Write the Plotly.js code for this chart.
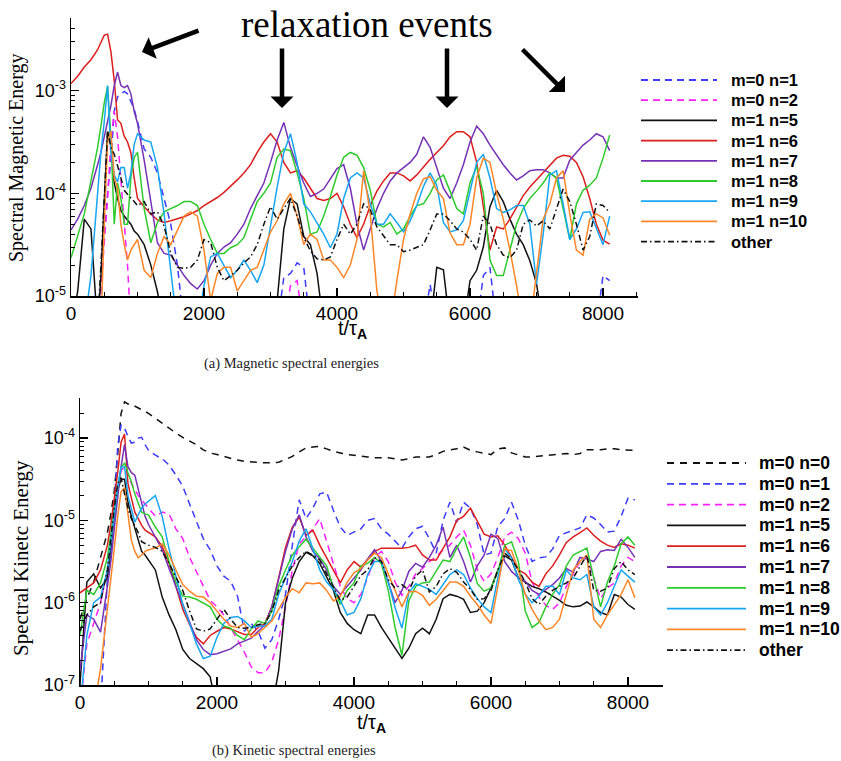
<!DOCTYPE html>
<html>
<head>
<meta charset="utf-8">
<script src="https://cdn.plot.ly/plotly-3.0.1.min.js"></script>
<style>
  html, body { margin: 0; padding: 0; background: #ffffff; }
  #chart { width: 841px; height: 761px; }
</style>
</head>
<body>
<div id="chart"></div>
<script>
// Simulation time t / tau_A (shared sampling for both panels)
const timeSteps = [0,100,200,300,400,450,500,550,600,650,700,750,800,850,900,950,1000,
  1100,1200,1300,1400,1500,1600,1700,1800,1900,2000,
  2100,2200,2300,2400,2500,2600,2700,2800,2900,3000,
  3100,3200,3300,3400,3500,3600,3700,3800,3900,4000,
  4100,4200,4300,4400,4500,4600,4700,4800,4900,5000,
  5100,5200,5300,5400,5500,5600,5700,5800,5900,6000,
  6100,6200,6300,6400,6500,6600,6700,6800,6900,7000,
  7100,7200,7300,7400,7500,7600,7700,7800,7900,8000,8100];

// ---------- (a) magnetic spectral energies ----------
const magM0N1 = [5e-6,5e-6,5e-6,5e-6,5e-6,1.1e-5,4.0e-5,1.0e-4,2.1e-4,6.3e-4,8.7e-4,9.3e-4,9.8e-4,9.3e-4,7.9e-4,6.6e-4,5.0e-4,
  2.7e-4,2.24e-4,1.58e-4,8.9e-5,5.0e-5,2.0e-5,5e-6,5e-6,5e-6,5e-6,
  5e-6,5e-6,5e-6,5e-6,5e-6,5e-6,5e-6,5e-6,5e-6,5e-6,
  5e-6,1.51e-5,1.66e-5,2.1e-5,1.9e-5,5e-6,5e-6,5e-6,5e-6,5e-6,
  5e-6,5e-6,5e-6,5e-6,5e-6,5e-6,5e-6,5e-6,5e-6,5e-6,
  5e-6,5e-6,5e-6,1.3e-5,5e-6,5e-6,5e-6,5e-6,5e-6,5e-6,
  5e-6,1.58e-5,1.9e-5,5e-6,5e-6,5e-6,5e-6,5e-6,5e-6,5e-6,
  5e-6,5e-6,5e-6,5e-6,5e-6,5e-6,5e-6,5e-6,5e-6,1.58e-5,1.41e-5];
const magM0N2 = [5e-6,5e-6,5e-6,5e-6,5e-6,1.2e-5,3.16e-5,8.9e-5,3.16e-4,6.3e-4,3.55e-4,1.26e-4,5.0e-5,2.0e-5,5e-6,5e-6,5e-6,
  5e-6,5e-6,5e-6,5e-6,5e-6,5e-6,5e-6,5e-6,5e-6,5e-6,
  5e-6,5e-6,5e-6,5e-6,5e-6,5e-6,5e-6,5e-6,5e-6,5e-6,
  5e-6,5e-6,1.26e-5,1.41e-5,5e-6,5e-6,5e-6,5e-6,5e-6,5e-6,
  5e-6,5e-6,5e-6,5e-6,5e-6,5e-6,5e-6,5e-6,5e-6,5e-6,
  5e-6,5e-6,5e-6,5e-6,5e-6,5e-6,5e-6,5e-6,5e-6,5e-6,
  5e-6,5e-6,5e-6,5e-6,5e-6,5e-6,5e-6,5e-6,5e-6,5e-6,
  5e-6,5e-6,5e-6,5e-6,5e-6,5e-6,5e-6,5e-6,5e-6,5e-6,5e-6];
const magM1N5 = [5e-6,1.1e-5,5.6e-5,4.5e-5,5e-6,1.58e-5,8.3e-5,4.0e-4,3.16e-4,1.26e-4,8.9e-5,6.8e-5,6.0e-5,5.4e-5,5.0e-5,4.3e-5,4.0e-5,
  3.16e-5,2.0e-5,1.1e-5,5e-6,5e-6,5e-6,5e-6,5e-6,5e-6,5e-6,
  5e-6,5e-6,5e-6,5e-6,5e-6,5e-6,5e-6,5e-6,5e-6,5e-6,
  9e-6,4.5e-5,8.9e-5,7.9e-5,3.8e-5,3.16e-5,1.66e-5,5e-6,5e-6,5e-6,
  5e-6,5e-6,5e-6,5e-6,5e-6,5e-6,5e-6,5e-6,5e-6,5e-6,
  5e-6,5e-6,5e-6,5e-6,1.9e-5,1.8e-5,5e-6,5e-6,5e-6,1.41e-5,
  1.78e-5,3.0e-5,7.4e-5,1.07e-4,8.3e-5,5.6e-5,4.0e-5,3.16e-5,2.2e-5,1.32e-5,
  5e-6,5e-6,5e-6,5e-6,5e-6,5e-6,5e-6,5e-6,5e-6,5e-6,5e-6];
const magM1N6 = [1.17e-3,1.38e-3,1.7e-3,2.0e-3,2.5e-3,2.95e-3,3.47e-3,3.55e-3,2.4e-3,1.26e-3,5.2e-4,4.8e-4,3.6e-4,3.16e-4,2.5e-4,1.41e-4,8.9e-5,
  7.4e-5,6.3e-5,5.5e-5,5.2e-5,5.4e-5,5.6e-5,5.9e-5,6.3e-5,6.8e-5,7.6e-5,
  8.3e-5,9.1e-5,1.02e-4,1.17e-4,1.35e-4,1.58e-4,1.9e-4,2.5e-4,3.16e-4,3.8e-4,
  3.16e-4,2.0e-4,1.58e-4,1.66e-4,1.41e-4,1.12e-4,8.9e-5,8.5e-5,8.9e-5,1.0e-4,
  7.4e-5,5.0e-5,3.7e-5,5.0e-5,7.6e-5,1.05e-4,1.32e-4,1.58e-4,1.58e-4,1.48e-4,
  1.32e-4,1.51e-4,1.82e-4,2.14e-4,2.5e-4,2.9e-4,3.55e-4,3.98e-4,3.98e-4,3.55e-4,
  2.0e-4,7.1e-5,2.8e-5,4.7e-5,4.5e-5,5.6e-5,7.4e-5,9.5e-5,1.15e-4,1.35e-4,
  1.58e-4,1.9e-4,2.2e-4,2.35e-4,2.3e-4,2.0e-4,1.45e-4,8.9e-5,5.0e-5,3.5e-5,3.2e-5];
const magM1N7 = [4.4e-5,5.6e-5,7.6e-5,1.12e-4,1.9e-4,2.5e-4,3.55e-4,5.0e-4,7.1e-4,1.12e-3,1.51e-3,1.12e-3,1.07e-3,1.12e-3,9.3e-4,6.3e-4,4.8e-4,
  2.1e-4,8.7e-5,3.3e-5,2.6e-5,2.5e-5,2.0e-5,1.58e-5,1.32e-5,1.17e-5,1.41e-5,
  2.0e-5,2.6e-5,3.0e-5,3.3e-5,4.0e-5,5.0e-5,7.1e-5,9.5e-5,1.26e-4,2.0e-4,
  3.3e-4,4.9e-4,2.8e-4,1.86e-4,1.26e-4,9.3e-5,1.0e-4,1.1e-4,1.38e-4,1.74e-4,
  1.9e-4,1.12e-4,5.0e-5,2.8e-5,4.5e-5,7.1e-5,1.0e-4,1.32e-4,1.58e-4,1.78e-4,
  2.0e-4,2.4e-4,3.55e-4,2.8e-4,1.78e-4,1.12e-4,8.9e-5,1.26e-4,1.9e-4,3.16e-4,
  4.5e-4,3.8e-4,2.95e-4,2.35e-4,1.9e-4,1.58e-4,1.35e-4,1.48e-4,1.66e-4,1.7e-4,
  1.7e-4,1.58e-4,1.41e-4,1.41e-4,2.1e-4,2.5e-4,2.95e-4,3.3e-4,3.8e-4,3.55e-4,2.6e-4];
const magM1N8 = [2.35e-5,3.8e-5,6.3e-5,1.32e-4,2.8e-4,4.5e-4,7.6e-4,1.1e-3,3.55e-4,5.0e-5,1.26e-4,8.9e-5,5.0e-5,5.0e-5,1.41e-4,2.24e-4,2.5e-4,
  7.1e-5,3.3e-5,5.2e-5,6.6e-5,7.1e-5,7.6e-5,8.3e-5,8.3e-5,7.6e-5,5.0e-5,
  3.55e-5,2.6e-5,2.6e-5,2.95e-5,3.16e-5,3.7e-5,5.6e-5,8.3e-5,1.0e-4,1.26e-4,
  2.24e-4,2.7e-4,2.6e-4,1.58e-4,8.9e-5,4.0e-5,4.2e-5,6.0e-5,9.3e-5,1.51e-4,
  2.24e-4,2.5e-4,2.35e-4,1.78e-4,1.07e-4,5.0e-5,4.7e-5,5.2e-5,4.0e-5,4.5e-5,
  6.0e-5,7.6e-5,7.9e-5,1.0e-4,1.35e-4,1.51e-4,1.05e-4,7.1e-5,6.3e-5,1.26e-4,
  1.82e-4,1.0e-4,2.24e-5,1.58e-5,1.58e-5,2.8e-5,5.0e-5,7.1e-5,8.9e-5,1.05e-4,
  1.26e-4,1.58e-4,1.41e-4,7.1e-5,3.55e-5,7.9e-5,1.07e-4,1.2e-4,1.41e-4,2.2e-4,3.7e-4];
const magM1N9 = [5e-6,5e-6,5e-6,1.58e-5,1.0e-4,2.5e-4,5.0e-4,1.12e-3,2.5e-4,1.51e-4,1.29e-4,1.78e-4,1.78e-4,1.12e-4,1.58e-4,3.0e-4,3.8e-4,
  3.3e-4,3.16e-4,1.78e-4,6.3e-5,1.78e-5,5e-6,5e-6,5e-6,5e-6,1.26e-5,
  2.4e-5,2.6e-5,2.0e-5,1.51e-5,1.78e-5,2.24e-5,1.78e-5,1.35e-5,2.0e-5,5.0e-5,
  1.15e-4,2.5e-4,3.8e-4,2.0e-4,7.9e-5,6.6e-5,5.2e-5,4.0e-5,2.95e-5,4.0e-5,
  8.9e-5,1.41e-4,1.58e-4,1.41e-4,7.9e-5,5.0e-5,5.0e-5,6.3e-5,5.2e-5,4.2e-5,
  5.4e-5,7.6e-5,1.17e-4,1.58e-4,1.2e-4,5.2e-5,4.2e-5,4.4e-5,5.4e-5,1.05e-4,
  2.0e-4,2.4e-4,1.41e-4,7.1e-5,6.5e-5,6.9e-5,7.6e-5,7.6e-5,5.0e-5,1.3e-5,
  4.0e-5,1.51e-4,1.66e-4,7.9e-5,3.55e-5,4.5e-5,6.5e-5,6.6e-5,4.5e-5,3.16e-5,6.0e-5];
const magM1N10 = [5e-6,5e-6,5e-6,5e-6,5e-6,5e-6,5.0e-5,3.16e-4,4.0e-4,1.41e-4,1.12e-4,5.0e-5,3.16e-5,2.24e-5,2.8e-5,3.16e-5,3.55e-5,
  1.78e-5,1.51e-5,2.6e-5,3.8e-5,3.16e-5,4.4e-5,6.0e-5,6.6e-5,6.0e-5,2.8e-5,
  9e-6,1.66e-5,1.9e-5,1.9e-5,1.12e-5,1.41e-5,1.78e-5,1.9e-5,2.8e-5,4.2e-5,
  5.4e-5,7.9e-5,1.0e-4,6.0e-5,3.16e-5,4.0e-5,3.55e-5,2.24e-5,2.24e-5,1.9e-5,
  1.51e-5,2.0e-5,3.55e-5,1.66e-4,6.3e-5,1.12e-5,5e-6,5e-6,1.41e-5,3.55e-5,
  6.3e-5,1.0e-4,1.38e-4,1.45e-4,1.07e-4,8.9e-5,4.1e-5,3.16e-5,3.16e-5,5.0e-5,
  1.41e-4,2.2e-4,2.0e-4,1.0e-4,5.6e-5,2.8e-5,1.26e-5,5e-6,5e-6,1.78e-5,
  5.6e-5,7.9e-5,1.41e-4,1.66e-4,6.3e-5,2.8e-5,2.5e-5,5.6e-5,6.3e-5,5.75e-5,3.9e-5];
const magOther = [5e-6,5e-6,5e-6,5e-6,5e-6,2.0e-5,7.9e-5,4.0e-4,2.8e-4,2.4e-4,1.86e-4,1.38e-4,1.07e-4,9.8e-5,9.1e-5,8.3e-5,7.6e-5,
  8.3e-5,6.3e-5,6.6e-5,4.8e-5,2.6e-5,1.9e-5,1.86e-5,1.9e-5,2.24e-5,3.55e-5,
  3.3e-5,1.9e-5,1.41e-5,1.58e-5,1.78e-5,2.1e-5,2.4e-5,3.16e-5,5.0e-5,7.4e-5,
  5.6e-5,7.1e-5,8.9e-5,6.0e-5,3.7e-5,2.75e-5,2.3e-5,2.24e-5,2.4e-5,3.55e-5,
  5.0e-5,4.0e-5,5.0e-5,7.9e-5,6.9e-5,4.7e-5,3.8e-5,3.16e-5,3.16e-5,2.7e-5,
  2.8e-5,2.95e-5,3.16e-5,4.4e-5,6.3e-5,6.3e-5,5.4e-5,4.5e-5,4.2e-5,3.55e-5,
  2.8e-5,6.0e-5,5.0e-5,3.16e-5,2.5e-5,2.35e-5,2.8e-5,5.0e-5,5.5e-5,4.8e-5,
  5.4e-5,4.5e-5,7.1e-5,1.1e-4,8.3e-5,5.0e-5,2.8e-5,3.8e-5,7.9e-5,7.6e-5,6.5e-5];

// ---------- (b) kinetic spectral energies ----------
const kinM0N0 = [6.3e-7,1.12e-6,1.78e-6,3.55e-6,7.1e-6,1.2e-5,2.24e-5,6.3e-5,2.0e-4,2.75e-4,2.6e-4,2.57e-4,2.45e-4,2.34e-4,2.2e-4,2.1e-4,2.0e-4,
  1.74e-4,1.51e-4,1.32e-4,1.15e-4,1.02e-4,9.1e-5,8.3e-5,7.2e-5,6.6e-5,6.3e-5,
  6.0e-5,5.6e-5,5.4e-5,5.2e-5,5.1e-5,5.1e-5,5.0e-5,5.0e-5,5.1e-5,5.5e-5,
  6.0e-5,6.8e-5,7.6e-5,7.8e-5,7.9e-5,7.4e-5,6.9e-5,6.6e-5,6.3e-5,6.2e-5,
  6.0e-5,5.9e-5,5.75e-5,5.75e-5,5.75e-5,5.6e-5,5.4e-5,5.6e-5,5.9e-5,5.9e-5,
  5.9e-5,6.3e-5,6.9e-5,7.2e-5,7.4e-5,7.8e-5,7.1e-5,6.8e-5,6.5e-5,6.3e-5,
  7.4e-5,7.6e-5,6.6e-5,6.2e-5,5.9e-5,5.9e-5,6.0e-5,6.2e-5,6.3e-5,6.3e-5,
  6.5e-5,6.3e-5,6.5e-5,7.2e-5,7.2e-5,7.2e-5,7.4e-5,7.4e-5,7.2e-5,7.1e-5,7.1e-5];
const kinM0N1 = [5e-8,5e-8,5e-8,5e-8,2.0e-6,4.0e-6,1.5e-5,7.9e-5,1.45e-4,1.32e-4,1.05e-4,8.7e-5,8.9e-5,1.0e-4,1.02e-4,8.3e-5,7.1e-5,
  6.2e-5,5.6e-5,4.7e-5,3.55e-5,2.6e-5,1.58e-5,9.5e-6,6.0e-6,4.4e-6,2.8e-6,
  2.1e-6,1.82e-6,1.2e-6,4.5e-7,5.6e-7,4.5e-7,2.8e-7,3.55e-7,6.3e-7,1.26e-6,
  5.0e-6,1.78e-5,1.05e-5,1.41e-5,2.1e-5,2.2e-5,1.32e-5,8.3e-6,6.6e-6,7.2e-6,
  7.9e-6,1.0e-5,1.05e-5,7.9e-6,6.8e-6,5.6e-6,4.6e-6,6.3e-6,7.9e-6,8.5e-6,
  6.0e-6,4.0e-6,1.0e-5,1.66e-5,9.5e-6,1.66e-5,1.41e-5,8.9e-6,3.8e-6,4.0e-6,
  8.5e-6,1.05e-5,1.66e-5,1.0e-5,5.0e-6,3.16e-6,3.5e-6,3.6e-6,4.5e-6,6.6e-6,
  7.1e-6,7.6e-6,8.1e-6,1.17e-5,1.07e-5,8.9e-6,7.2e-6,7.4e-6,1.12e-5,1.86e-5,1.78e-5];
const kinM0N2 = [5e-8,3.16e-7,5.6e-7,1.0e-6,2.5e-6,5.0e-6,1.12e-5,2.5e-5,4.0e-5,4.5e-5,3.55e-5,2.8e-5,2.4e-5,2.0e-5,1.78e-5,1.58e-5,1.41e-5,
  1.12e-5,1.26e-5,1.2e-5,7.9e-6,6.0e-6,3.55e-6,2.4e-6,1.58e-6,1.07e-6,8.9e-7,
  7.1e-7,5.0e-7,3.5e-7,2.5e-7,1.66e-7,1.41e-7,1.41e-7,1.9e-7,3.55e-7,8.9e-7,
  2.5e-6,5.2e-6,6.3e-6,7.9e-6,1.05e-5,5.6e-6,2.8e-6,1.58e-6,1.12e-6,1.0e-6,
  1.26e-6,2.0e-6,3.55e-6,4.2e-6,3.16e-6,1.78e-6,1.23e-6,1.58e-6,2.24e-6,2.6e-6,
  3.16e-6,3.6e-6,4.4e-6,5.0e-6,6.3e-6,7.6e-6,5.0e-6,2.5e-6,1.82e-6,2.24e-6,
  3.55e-6,6.3e-6,7.2e-6,6.0e-6,4.0e-6,1.78e-6,1.17e-6,9.3e-7,8.3e-7,1.0e-6,
  1.58e-6,2.24e-6,3.16e-6,3.55e-6,2.0e-6,1.12e-6,1.51e-6,1.74e-6,2.8e-6,3.55e-6,3.16e-6];
const kinM1N5 = [1.0e-7,1.78e-6,2.24e-6,1.51e-6,2.0e-6,5.0e-6,1.12e-5,2.34e-5,3.16e-5,3.16e-5,1.66e-5,1.12e-5,8.1e-6,5.6e-6,4.2e-6,3.8e-6,3.3e-6,
  2.5e-6,1.17e-6,7.1e-7,4.7e-7,2.7e-7,2.1e-7,1.82e-7,1.58e-7,1.26e-7,5e-8,
  5e-8,5e-8,5e-8,5e-8,5e-8,5e-8,5e-8,5e-8,1.5e-7,1.0e-6,
  2.0e-6,3.16e-6,4.1e-6,3.7e-6,3.0e-6,2.1e-6,1.41e-6,7.6e-7,5.6e-7,4.7e-7,
  4.2e-7,7.1e-7,7.1e-7,5.0e-7,3.8e-7,2.8e-7,2.1e-7,2.8e-7,4.2e-7,4.9e-7,
  4.2e-7,6.3e-7,1.12e-6,1.26e-6,1.2e-6,1.1e-6,7.6e-7,7.9e-7,1.0e-6,1.51e-6,
  2.5e-6,3.7e-6,3.3e-6,2.0e-6,1.78e-6,1.58e-6,1.48e-6,1.35e-6,1.2e-6,1.07e-6,
  9.3e-7,8.9e-7,9.1e-7,1.02e-6,8.9e-7,7.6e-7,7.1e-7,1.26e-6,1.17e-6,9.5e-7,8.3e-7];
const kinM1N6 = [1.32e-6,1.51e-6,1.74e-6,2.5e-6,5.0e-6,8.9e-6,1.78e-5,3.8e-5,8.9e-5,1.12e-4,2.8e-5,1.9e-5,1.26e-5,1.05e-5,8.7e-6,7.6e-6,7.1e-6,
  6.3e-6,4.8e-6,3.0e-6,1.58e-6,8.3e-7,5.4e-7,3.8e-7,3.16e-7,4.0e-7,4.5e-7,
  5.0e-7,4.8e-7,4.4e-7,4.1e-7,4.1e-7,5.0e-7,5.6e-7,8.9e-7,2.0e-6,4.7e-6,
  8.3e-6,1.1e-5,6.6e-6,7.6e-6,5.0e-6,3.55e-6,2.5e-6,1.74e-6,2.5e-6,3.16e-6,
  2.7e-6,3.4e-6,4.2e-6,4.6e-6,4.6e-6,4.6e-6,4.6e-6,4.7e-6,5.0e-6,3.8e-6,
  3.3e-6,3.3e-6,4.5e-6,6.3e-6,1.0e-5,1.12e-5,1.41e-5,1.0e-5,6.8e-6,6.3e-6,
  6.5e-6,5.0e-6,3.55e-6,2.5e-6,2.24e-6,1.78e-6,1.58e-6,2.24e-6,2.8e-6,3.8e-6,
  5.4e-6,6.3e-6,7.1e-6,8.1e-6,6.6e-6,5.6e-6,5.0e-6,4.7e-6,5.2e-6,5.0e-6,4.6e-6];
const kinM1N7 = [1.5e-7,7.1e-7,6.3e-7,4.4e-7,1.58e-6,3.16e-6,7.9e-6,2.0e-5,4.5e-5,8.3e-5,4.5e-5,3.8e-5,3.55e-5,2.4e-5,1.58e-5,1.12e-5,8.9e-6,
  6.3e-6,4.4e-6,2.6e-6,1.58e-6,9.5e-7,5.6e-7,3.55e-7,2.7e-7,2.34e-7,2.4e-7,
  2.57e-7,2.75e-7,3.16e-7,3.4e-7,3.7e-7,4.5e-7,5.4e-7,8.9e-7,2.0e-6,4.2e-6,
  7.9e-6,1.17e-5,6.3e-6,4.2e-6,3.4e-6,2.5e-6,1.58e-6,1.26e-6,1.58e-6,2.0e-6,
  2.5e-6,3.4e-6,4.4e-6,3.16e-6,1.78e-6,1.0e-6,1.41e-6,2.4e-6,3.0e-6,2.7e-6,
  3.55e-6,5.0e-6,8.3e-6,3.55e-6,5.0e-6,3.16e-6,1.78e-6,2.8e-6,3.8e-6,6.8e-6,
  6.0e-6,3.16e-6,2.4e-6,2.0e-6,1.82e-6,1.41e-6,1.26e-6,1.45e-6,1.66e-6,2.0e-6,
  2.6e-6,2.34e-6,3.55e-6,3.4e-6,3.16e-6,4.2e-6,4.4e-6,4.3e-6,5.9e-6,4.7e-6,3.55e-6];
const kinM1N8 = [4.0e-7,1.41e-6,1.26e-6,1.74e-6,3.55e-6,7.1e-6,1.41e-5,2.5e-5,4.4e-5,5.0e-5,3.8e-5,2.95e-5,2.1e-5,1.58e-5,1.26e-5,1.2e-5,1.17e-5,
  8.3e-6,6.3e-6,3.16e-6,1.78e-6,1.2e-6,1.17e-6,1.1e-6,1.0e-6,8.9e-7,6.3e-7,
  5.2e-7,4.9e-7,4.0e-7,3.55e-7,4.8e-7,6.0e-7,5.6e-7,7.9e-7,1.58e-6,2.5e-6,
  3.8e-6,4.8e-6,5.9e-6,4.6e-6,3.55e-6,2.8e-6,1.51e-6,9.5e-7,1.41e-6,1.74e-6,
  2.8e-6,3.0e-6,3.55e-6,3.0e-6,1.41e-6,5.0e-7,2.3e-7,1.05e-6,1.58e-6,1.74e-6,
  1.78e-6,2.4e-6,3.3e-6,3.16e-6,4.6e-6,6.3e-6,3.55e-6,1.7e-6,1.38e-6,1.51e-6,
  2.4e-6,5.0e-6,5.5e-6,3.16e-6,7.9e-7,5.0e-7,5.75e-7,8.9e-7,1.26e-6,1.66e-6,
  2.8e-6,3.8e-6,4.2e-6,4.6e-6,2.0e-6,8.9e-7,1.78e-6,2.8e-6,5.2e-6,6.3e-6,5.0e-6];
const kinM1N9 = [5e-8,4.0e-7,1.0e-6,1.17e-6,2.5e-6,5.6e-6,1.12e-5,2.5e-5,4.5e-5,4.5e-5,2.0e-5,1.32e-5,9.5e-6,1.17e-5,1.41e-5,1.58e-5,1.7e-5,
  2.0e-5,1.12e-5,4.5e-6,2.1e-6,9.5e-7,5.6e-7,3.16e-7,2.1e-7,2.24e-7,3.8e-7,
  5.6e-7,6.6e-7,6.8e-7,6.0e-7,5.0e-7,5.2e-7,5.2e-7,6.3e-7,1.26e-6,2.0e-6,
  3.16e-6,5.6e-6,7.9e-6,4.5e-6,2.5e-6,1.78e-6,1.45e-6,1.07e-6,7.1e-7,7.6e-7,
  1.12e-6,2.2e-6,3.16e-6,3.16e-6,1.78e-6,8.7e-7,4.9e-7,1.32e-6,1.7e-6,1.58e-6,
  1.45e-6,1.26e-6,1.66e-6,2.2e-6,2.5e-6,2.2e-6,1.51e-6,1.12e-6,8.9e-7,7.6e-7,
  2.0e-6,4.5e-6,3.5e-6,1.9e-6,1.26e-6,1.0e-6,1.2e-6,1.58e-6,1.58e-6,1.26e-6,
  2.5e-6,2.0e-6,1.9e-6,2.2e-6,8.9e-7,7.1e-7,1.0e-6,1.58e-6,2.5e-6,2.1e-6,1.78e-6];
const kinM1N10 = [5e-8,5e-8,5e-8,1.58e-7,7.9e-7,1.78e-6,4.5e-6,1.12e-5,2.24e-5,2.5e-5,1.12e-5,5.75e-6,4.2e-6,3.5e-6,3.8e-6,4.2e-6,4.4e-6,
  4.6e-6,5.2e-6,3.8e-6,2.5e-6,1.66e-6,1.38e-6,1.2e-6,1.17e-6,1.0e-6,7.9e-7,
  6.3e-7,5.2e-7,5.0e-7,5.6e-7,3.8e-7,4.2e-7,5.0e-7,6.0e-7,8.3e-7,1.17e-6,
  1.48e-6,1.32e-6,1.74e-6,1.7e-6,1.74e-6,1.41e-6,1.05e-6,1.2e-6,1.78e-6,2.3e-6,
  2.6e-6,3.3e-6,4.0e-6,3.55e-6,2.24e-6,1.41e-6,8.9e-7,1.35e-6,1.38e-6,1.23e-6,
  9.3e-7,1.1e-6,1.41e-6,1.78e-6,1.78e-6,1.58e-6,1.2e-6,9.5e-7,7.1e-7,5.6e-7,
  1.58e-6,4.5e-6,4.3e-6,2.5e-6,1.26e-6,8.3e-7,6.0e-7,4.7e-7,5.0e-7,6.3e-7,
  1.26e-6,2.5e-6,3.16e-6,3.8e-6,6.3e-7,5.0e-7,7.1e-7,9.3e-7,1.26e-6,1.9e-6,1.15e-6];
const kinOther = [4.5e-7,7.1e-7,8.9e-7,1.0e-6,2.5e-6,6.3e-6,1.41e-5,2.8e-5,3.3e-5,2.1e-5,1.41e-5,1.05e-5,8.7e-6,7.1e-6,5.5e-6,5.2e-6,5.0e-6,
  4.7e-6,4.2e-6,3.0e-6,2.1e-6,1.41e-6,7.9e-7,4.8e-7,4.5e-7,4.8e-7,6.3e-7,
  8.3e-7,6.3e-7,5.0e-7,4.9e-7,5.0e-7,5.4e-7,5.6e-7,7.9e-7,1.41e-6,2.0e-6,
  2.8e-6,3.55e-6,4.2e-6,3.8e-6,3.3e-6,2.24e-6,1.58e-6,1.07e-6,1.17e-6,1.58e-6,
  2.14e-6,2.5e-6,3.55e-6,3.16e-6,1.9e-6,1.51e-6,1.66e-6,1.41e-6,2.1e-6,2.5e-6,
  1.35e-6,1.58e-6,2.24e-6,2.6e-6,2.34e-6,1.78e-6,1.45e-6,1.1e-6,1.12e-6,1.41e-6,
  2.5e-6,4.0e-6,3.4e-6,2.5e-6,1.78e-6,1.12e-6,9.5e-7,1.2e-6,1.41e-6,1.58e-6,
  1.74e-6,2.0e-6,2.8e-6,3.8e-6,1.41e-6,1.38e-6,1.51e-6,2.6e-6,3.16e-6,2.5e-6,2.2e-6];

// legend labels
const labelsMag = ['m=0 n=1','m=0 n=2','m=1 n=5','m=1 n=6','m=1 n=7','m=1 n=8','m=1 n=9','m=1 n=10','other'];
const labelsKin = ['m=0 n=0','m=0 n=1','m=0 n=2','m=1 n=5','m=1 n=6','m=1 n=7','m=1 n=8','m=1 n=9','m=1 n=10','other'];

// y tick positions and labels (decades)
const magTickVals = [1e-5, 1e-4, 1e-3];
const magTickText = ['10<sup>-5</sup>', '10<sup>-4</sup>', '10<sup>-3</sup>'];
const kinTickVals = [1e-7, 1e-6, 1e-5, 1e-4];
const kinTickText = ['10<sup>-7</sup>', '10<sup>-6</sup>', '10<sup>-5</sup>', '10<sup>-4</sup>'];

// line styles per mode
const styleOf = {
  'm=0 n=0': {color: '#111111', dash: '7px,6px'},
  'm=0 n=1': {color: '#3c3cff', dash: '7px,5px'},
  'm=0 n=2': {color: '#ff1fff', dash: '7px,5px'},
  'm=1 n=5': {color: '#111111', dash: 'solid'},
  'm=1 n=6': {color: '#dc1e1e', dash: 'solid'},
  'm=1 n=7': {color: '#7532b5', dash: 'solid'},
  'm=1 n=8': {color: '#2ecb2e', dash: 'solid'},
  'm=1 n=9': {color: '#17a6f2', dash: 'solid'},
  'm=1 n=10': {color: '#ff8526', dash: 'solid'},
  'other':   {color: '#111111', dash: '6px,3px,1.5px,3px'}
};

const seriesMag = [magM0N1, magM0N2, magM1N5, magM1N6, magM1N7, magM1N8, magM1N9, magM1N10, magOther];
const seriesKin = [kinM0N0, kinM0N1, kinM0N2, kinM1N5, kinM1N6, kinM1N7, kinM1N8, kinM1N9, kinM1N10, kinOther];

function makeTrace(name, ys, xa, ya) {
  const s = styleOf[name];
  return {
    type: 'scatter', mode: 'lines', name: name,
    x: timeSteps, y: ys, xaxis: xa, yaxis: ya,
    line: {color: s.color, dash: s.dash, width: 1.5},
    hoverinfo: 'skip', showlegend: false
  };
}

const traces = [];
labelsMag.forEach((n, i) => traces.push(makeTrace(n, seriesMag[i], 'x', 'y')));
labelsKin.forEach((n, i) => traces.push(makeTrace(n, seriesKin[i], 'x2', 'y2')));

const W = 841, H = 761;
const px = v => v / W;          // horizontal pixel -> paper
const py = v => 1 - v / H;      // vertical pixel (from top) -> paper

const sans = 'Liberation Sans, Arial, sans-serif';
const serif = 'Liberation Serif, Times New Roman, serif';

const xCommon = {
  showline: true, linecolor: '#000', linewidth: 1.5, mirror: false,
  showgrid: false, zeroline: false, ticks: 'inside', ticklen: 8, tickwidth: 1.2, tickcolor: '#000',
  dtick: 2000, tick0: 0, tickfont: {family: sans, size: 19, color: '#000'},
  minor: {ticks: 'inside', ticklen: 4, tickwidth: 1, tickcolor: '#000', dtick: 500, showgrid: false}
};
const yCommon = {
  type: 'log', showline: true, linecolor: '#000', linewidth: 1.5, mirror: false,
  showgrid: false, zeroline: false, ticks: 'inside', ticklen: 8, tickwidth: 1.2, tickcolor: '#000',
  tickmode: 'array', tickfont: {family: sans, size: 18, color: '#000'},
  minor: {ticks: 'inside', ticklen: 4, tickwidth: 1, tickcolor: '#000', dtick: 'D1', showgrid: false}
};

// key boxes: sample line + label for every mode, one box per panel
const shapes = [];
const annotations = [];
function addKey(labels, top, step, x0, x1, xText, fontSize) {
  labels.forEach((n, i) => {
    const s = styleOf[n];
    const yy = py(top + step * i);
    shapes.push({type: 'line', xref: 'paper', yref: 'paper', x0: px(x0), x1: px(x1), y0: yy, y1: yy,
      line: {color: s.color, dash: s.dash, width: 1.8}});
    annotations.push({text: '<b>' + n + '</b>', xref: 'paper', yref: 'paper', x: px(xText), y: yy,
      xanchor: 'left', yanchor: 'middle', showarrow: false,
      font: {family: sans, size: fontSize, color: '#000'}});
  });
}
addKey(labelsMag, 80, 20.2, 641, 717, 729, 16.5);
addKey(labelsKin, 463, 20.8, 667, 746, 757, 17.5);

annotations.push(
  // panel headline
  {text: 'relaxation events', xref: 'paper', yref: 'paper', x: px(367), y: py(24),
   xanchor: 'center', yanchor: 'middle', showarrow: false,
   font: {family: serif, size: 37, color: '#000'}},
  // arrows pointing at the relaxation events
  {text: '', xref: 'paper', yref: 'paper', x: px(142), y: py(52), ax: 58, ay: -22,
   showarrow: true, arrowhead: 1, arrowsize: 0.85, arrowwidth: 4.5, arrowcolor: '#000'},
  {text: '', xref: 'paper', yref: 'paper', x: px(282), y: py(108), ax: 0, ay: -61,
   showarrow: true, arrowhead: 1, arrowsize: 0.85, arrowwidth: 4.5, arrowcolor: '#000'},
  {text: '', xref: 'paper', yref: 'paper', x: px(447), y: py(108), ax: 0, ay: -61,
   showarrow: true, arrowhead: 1, arrowsize: 0.85, arrowwidth: 4.5, arrowcolor: '#000'},
  {text: '', xref: 'paper', yref: 'paper', x: px(565), y: py(92), ax: -44, ay: -44,
   showarrow: true, arrowhead: 1, arrowsize: 0.85, arrowwidth: 4.5, arrowcolor: '#000'},
  // axis titles
  {text: 'Spectral Magnetic Energy', xref: 'paper', yref: 'paper', x: px(16), y: py(158),
   textangle: -90, showarrow: false, xanchor: 'center', yanchor: 'middle',
   font: {family: serif, size: 20, color: '#000'}},
  {text: 'Spectral Kinetc Energy', xref: 'paper', yref: 'paper', x: px(21), y: py(558),
   textangle: -90, showarrow: false, xanchor: 'center', yanchor: 'middle',
   font: {family: serif, size: 21, color: '#000'}},
  {text: 't/τ<sub><b>A</b></sub>', xref: 'paper', yref: 'paper', x: px(352), y: py(329),
   showarrow: false, xanchor: 'center', yanchor: 'middle',
   font: {family: sans, size: 20, color: '#000'}},
  {text: 't/τ<sub><b>A</b></sub>', xref: 'paper', yref: 'paper', x: px(371), y: py(723),
   showarrow: false, xanchor: 'center', yanchor: 'middle',
   font: {family: sans, size: 20, color: '#000'}},
  // sub-figure captions
  {text: '(a) Magnetic spectral energies', xref: 'paper', yref: 'paper', x: px(291), y: py(363),
   showarrow: false, xanchor: 'center', yanchor: 'middle',
   font: {family: serif, size: 14.5, color: '#222'}},
  {text: '(b) Kinetic spectral energies', xref: 'paper', yref: 'paper', x: px(294), y: py(750),
   showarrow: false, xanchor: 'center', yanchor: 'middle',
   font: {family: serif, size: 14.5, color: '#222'}}
);

const layout = {
  width: W, height: H,
  margin: {l: 0, r: 0, t: 0, b: 0},
  paper_bgcolor: '#fff', plot_bgcolor: '#fff',
  showlegend: false,
  xaxis: Object.assign({}, xCommon, {domain: [px(71), px(638)], range: [0, 8526], anchor: 'y'}),
  yaxis: Object.assign({}, yCommon, {domain: [py(296), py(18)], range: [-5, -2.293], anchor: 'x',
    tickvals: magTickVals, ticktext: magTickText}),
  xaxis2: Object.assign({}, xCommon, {domain: [px(80), px(663)], range: [0, 8511], anchor: 'y2'}),
  yaxis2: Object.assign({}, yCommon, {domain: [py(685), py(398)], range: [-7, -3.513], anchor: 'x2',
    tickvals: kinTickVals, ticktext: kinTickText}),
  shapes: shapes,
  annotations: annotations
};

Plotly.newPlot('chart', traces, layout, {staticPlot: true, displayModeBar: false});
</script>
</body>
</html>
